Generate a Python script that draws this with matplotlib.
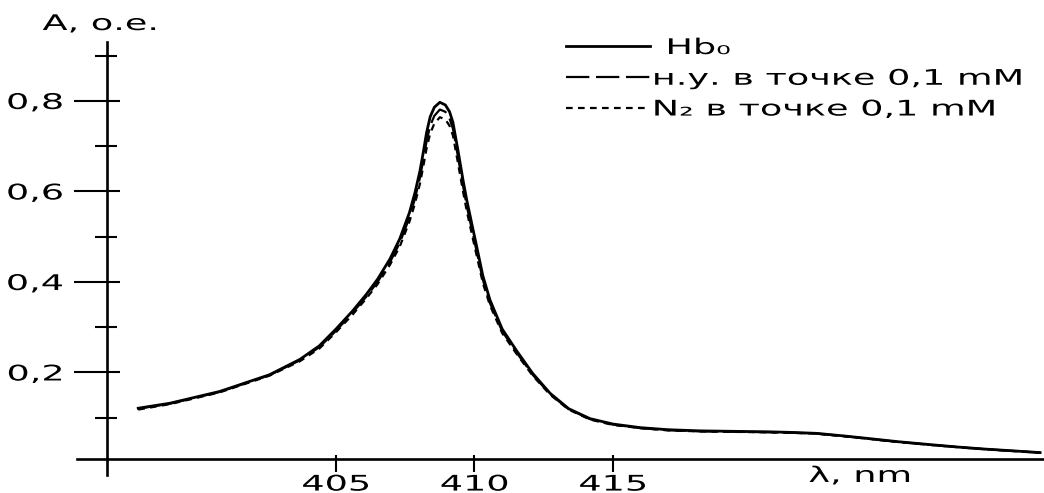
import matplotlib
matplotlib.use("Agg")
import matplotlib.pyplot as plt
from matplotlib.ticker import FixedLocator
from matplotlib.patheffects import AbstractPathEffect
from matplotlib.transforms import Affine2D

# ---------------- data ----------------
wavelength = [397.86, 399.0, 400.8, 402.6, 403.7, 404.4, 405.0, 405.6, 406.1, 406.5,
              406.95, 407.3, 407.65, 407.85, 408.03, 408.15, 408.27, 408.4, 408.55, 408.75,
              408.95, 409.1, 409.22, 409.4, 409.58, 409.72, 409.95, 410.08, 410.3, 410.56,
              411.0, 411.52, 412.1, 412.73, 413.4, 414.17, 415.0, 416.0, 417.0, 418.14,
              419.3, 420.55, 421.5, 422.35, 423.3, 424.16, 425.3, 426.56, 427.5, 428.37,
              429.4, 430.42]

hb0 = [0.121, 0.132, 0.158, 0.195, 0.229, 0.259, 0.296, 0.336, 0.373, 0.406,
       0.451, 0.495, 0.553, 0.597, 0.645, 0.686, 0.730, 0.765, 0.786, 0.797,
       0.791, 0.776, 0.753, 0.692, 0.627, 0.581, 0.515, 0.478, 0.414, 0.360,
       0.296, 0.248, 0.198, 0.154, 0.120, 0.098, 0.086, 0.078, 0.0735, 0.071,
       0.070, 0.069, 0.0675, 0.0655, 0.060, 0.0545, 0.047, 0.040, 0.035, 0.031,
       0.027, 0.023]

air_01mM = [0.120, 0.131, 0.157, 0.194, 0.227, 0.256, 0.292, 0.332, 0.368, 0.400,
            0.444, 0.486, 0.542, 0.584, 0.630, 0.669, 0.711, 0.745, 0.767, 0.781,
            0.776, 0.761, 0.739, 0.678, 0.614, 0.568, 0.503, 0.467, 0.405, 0.353,
            0.291, 0.244, 0.195, 0.152, 0.119, 0.097, 0.085, 0.077, 0.0725, 0.070,
            0.069, 0.068, 0.0668, 0.065, 0.0595, 0.054, 0.0465, 0.0395, 0.0348, 0.0308,
            0.0268, 0.0228]

n2_01mM = [0.118, 0.130, 0.156, 0.193, 0.225, 0.253, 0.289, 0.328, 0.364, 0.395,
           0.438, 0.478, 0.533, 0.573, 0.617, 0.655, 0.695, 0.728, 0.750, 0.764,
           0.759, 0.745, 0.724, 0.664, 0.602, 0.557, 0.493, 0.458, 0.398, 0.348,
           0.287, 0.241, 0.193, 0.151, 0.118, 0.096, 0.084, 0.077, 0.072, 0.0698,
           0.0688, 0.0678, 0.0665, 0.0648, 0.0592, 0.0538, 0.0463, 0.0394, 0.0346, 0.0306,
           0.0266, 0.0226]

labels = ["  Hb\u2080", "н.у. в точке 0,1 mM", "N\u2082 в точке 0,1 mM"]
x_ticks = [405, 410, 415]
x_tick_labels = ["405", "410", "415"]
y_ticks = [0.2, 0.4, 0.6, 0.8]
y_tick_labels = ["0,2", "0,4", "0,6", "0,8"]
y_minor_ticks = [0.1, 0.3, 0.5, 0.7, 0.9]


class HStretch(AbstractPathEffect):
    """Widen the glyphs horizontally (the reference lettering is stretched)."""

    def __init__(self, sx=1.7, pivot='left'):
        super().__init__()
        self.sx = sx
        self.pivot = pivot

    def draw_path(self, renderer, gc, tpath, affine, rgbFace=None):
        ext = tpath.get_extents(affine)
        if self.pivot == 'right':
            px = ext.x1
        elif self.pivot == 'center':
            px = 0.5 * (ext.x0 + ext.x1)
        else:
            px = ext.x0
        t = affine + Affine2D().translate(-px, 0).scale(self.sx, 1).translate(px, 0)
        renderer.draw_path(gc, tpath, t, rgbFace)


# ---------------- figure ----------------
W, H = 1044, 493
fig = plt.figure(figsize=(W / 100, H / 100), dpi=100)
plt.rcParams['font.family'] = ['DejaVu Sans']
FS = 15.5
SX = 1.7

XLIM = (392.87, 430.56)
YLIM = (-0.0663, 1.023)
X_AXIS_AT = 396.73   # where the y axis crosses
Y_AXIS_AT = 0.0088   # where the x axis crosses

ax = fig.add_axes([0, 0, 1, 1])
ax.set_facecolor('white')
ax.set_xlim(*XLIM)
ax.set_ylim(*YLIM)

l3, = ax.plot(wavelength, n2_01mM, color='black', lw=1.6, dashes=(3, 2.4), zorder=2)
l2, = ax.plot(wavelength, air_01mM, color='black', lw=1.6, dashes=(10.5, 3.0), zorder=3)
l1, = ax.plot(wavelength, hb0, color='black', lw=2.0, zorder=4)

for s in ('top', 'right'):
    ax.spines[s].set_visible(False)
ax.spines['left'].set_position(('data', X_AXIS_AT))
ax.spines['bottom'].set_position(('data', Y_AXIS_AT))
ax.spines['left'].set_bounds(-0.0265, 0.930)
ax.spines['bottom'].set_bounds(395.65, XLIM[1])
for s in ('left', 'bottom'):
    ax.spines[s].set_linewidth(1.9)

ax.set_xticks(x_ticks, x_tick_labels)
ax.set_yticks(y_ticks, y_tick_labels)
ax.yaxis.set_minor_locator(FixedLocator(y_minor_ticks))
ax.tick_params(axis='y', which='major', direction='out', length=24, width=1.5,
               pad=7.5, labelsize=FS)
ax.tick_params(axis='y', which='minor', direction='out', length=8.3, width=1.5)
ax.tick_params(axis='x', which='major', direction='out', length=9, width=1.5,
               pad=2.2, labelsize=FS)
for lab in ax.get_yticklabels():
    lab.set_path_effects([HStretch(SX, 'right')])
for lab in ax.get_xticklabels():
    lab.set_path_effects([HStretch(SX, 'center')])

# overlay axes that draws the inward parts of the crossing tick marks
ax2 = fig.add_axes([0, 0, 1, 1], facecolor='none')
ax2.set_xlim(*XLIM)
ax2.set_ylim(*YLIM)
for s in ('top', 'right', 'left', 'bottom'):
    ax2.spines[s].set_visible(False)
ax2.spines['right'].set_position(('data', X_AXIS_AT))
ax2.spines['top'].set_position(('data', Y_AXIS_AT))
ax2.yaxis.tick_right()
ax2.xaxis.tick_top()
ax2.set_xticks(x_ticks)
ax2.set_yticks(y_ticks)
ax2.yaxis.set_minor_locator(FixedLocator(y_minor_ticks))
ax2.tick_params(axis='y', which='major', direction='out', length=9, width=1.5,
                labelright=False, labelleft=False)
ax2.tick_params(axis='y', which='minor', direction='out', length=7.5, width=1.5,
                labelright=False, labelleft=False)
ax2.tick_params(axis='x', which='major', direction='out', length=3, width=1.5,
                labeltop=False, labelbottom=False)

# axis titles
fig.text(100 / W, 1 - 24 / H, "A, о.е.", fontsize=FS, ha='center', va='center',
         path_effects=[HStretch(SX, 'center')])
fig.text(860 / W, 1 - 476 / H, "λ, nm", fontsize=FS, ha='center', va='center',
         path_effects=[HStretch(SX, 'center')])

# legend
leg = ax.legend([l1, l2, l3], labels, loc='upper left',
                bbox_to_anchor=(566 / W, 1 - 38 / H), bbox_transform=fig.transFigure,
                frameon=False, fontsize=FS, handlelength=3.9, handletextpad=0.15,
                labelspacing=0.5, borderpad=0, borderaxespad=0)
for t in leg.get_texts():
    t.set_path_effects([HStretch(SX, 'left')])

fig.savefig("out.png", dpi=100)
